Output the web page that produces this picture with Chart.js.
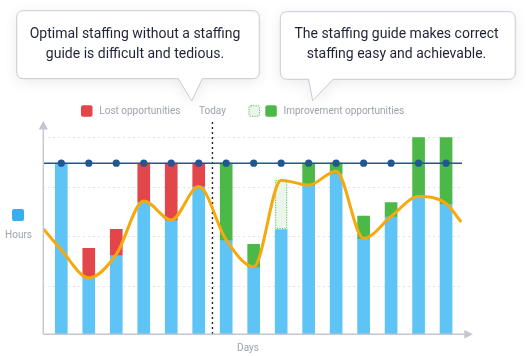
<!DOCTYPE html>
<html>
<head>
<meta charset="utf-8">
<script src="https://cdn.jsdelivr.net/npm/chart.js@4.4.1/dist/chart.umd.min.js"></script>
<style>
  html, body { margin: 0; padding: 0; background: #ffffff; }
  #wrap { width: 532px; height: 356px; position: relative; }
</style>
</head>
<body>
<div id="wrap"><canvas id="c" width="532" height="356"></canvas></div>
<script>
// ---------- data ----------
const dayPos        = [1, 2, 3, 4, 5, 6, 7, 8, 9, 10, 11, 12, 13, 14, 15];
const staffedHours  = [34.8, 11.8, 16.4, 27.1, 23.4, 30.2, 19.4, 14.0, 21.6, 30.4, 32.8, 19.7, 24.1, 28.1, 26.7];
const lostTop       = [null, 17.7, 21.5, 34.8, 34.8, 34.8, null, null, null, null, null, null, null, null, null];
const improveTop    = [null, null, null, null, null, null, 34.8, 18.5, null, 34.8, 34.8, 24.2, 26.9, 40, 40];
const potentialTop  = [null, null, null, null, null, null, null, null, 31.4, null, null, null, null, null, null];
const targetHours   = 34.8;
const demandX       = [0.35, 1, 2, 3, 4, 5, 6, 7, 8, 9, 10, 11, 12, 13, 14, 15, 15.55];
const demandHours   = [21.6, 17.4, 11.8, 16.5, 27.2, 23.4, 30.1, 19.4, 14.0, 31.4, 30.4, 33.2, 19.7, 24.1, 28.1, 26.7, 23.0];
const gridHours     = [10, 20, 30, 40];
const todayPos      = 6.5;
const xRange        = [0.345, 15.58];
const yRange        = [0.45, 40];

const calloutLeft  = ["Optimal staffing without a staffing", "guide is difficult and tedious."];
const calloutRight = ["The staffing guide makes correct", "staffing easy and achievable."];
const legendLost   = "Lost opportunities";
const legendToday  = "Today";
const legendImprove = "Improvement opportunities";
const yTitle = "Hours";
const xTitle = "Days";

// ---------- colours ----------
const C = {
  blue: '#5ec4f6', red: '#e2464a', green: '#4cb848', paleGreen: '#eaf6ea',
  orange: '#f7a80d', navy: '#23578f', grid: '#e3e4e9', axis: '#c4c6d0',
  label: '#9ea1ae', text: '#1f2336', hoursKey: '#38aef1', border: '#c8cad5'
};

// ---------- helpers ----------
function floating(tops) {
  const out = [];
  dayPos.forEach((d, i) => { if (tops[i] != null) out.push({ x: d, y: [staffedHours[i], tops[i]] }); });
  return out;
}
function roundRect(ctx, x, y, w, h, r) {
  ctx.beginPath();
  ctx.moveTo(x + r, y); ctx.lineTo(x + w - r, y);
  ctx.quadraticCurveTo(x + w, y, x + w, y + r);
  ctx.lineTo(x + w, y + h - r);
  ctx.quadraticCurveTo(x + w, y + h, x + w - r, y + h);
  ctx.lineTo(x + r, y + h);
  ctx.quadraticCurveTo(x, y + h, x, y + h - r);
  ctx.lineTo(x, y + r);
  ctx.quadraticCurveTo(x, y, x + r, y);
  ctx.closePath();
}
function callout(ctx, b, lines, cx) {
  const r = 7;
  ctx.save();
  ctx.beginPath();
  ctx.moveTo(b.x + r, b.y); ctx.lineTo(b.x + b.w - r, b.y);
  ctx.quadraticCurveTo(b.x + b.w, b.y, b.x + b.w, b.y + r);
  ctx.lineTo(b.x + b.w, b.y + b.h - r);
  ctx.quadraticCurveTo(b.x + b.w, b.y + b.h, b.x + b.w - r, b.y + b.h);
  ctx.lineTo(b.p2, b.y + b.h);
  ctx.lineTo(b.tx, b.ty);
  ctx.lineTo(b.p1, b.y + b.h);
  ctx.lineTo(b.x + r, b.y + b.h);
  ctx.quadraticCurveTo(b.x, b.y + b.h, b.x, b.y + b.h - r);
  ctx.lineTo(b.x, b.y + r);
  ctx.quadraticCurveTo(b.x, b.y, b.x + r, b.y);
  ctx.closePath();
  ctx.shadowColor = 'rgba(40,45,70,0.10)';
  ctx.shadowBlur = 14; ctx.shadowOffsetY = 3;
  ctx.fillStyle = '#ffffff'; ctx.fill();
  ctx.shadowColor = 'transparent';
  ctx.strokeStyle = C.border; ctx.lineWidth = 1; ctx.stroke();
  ctx.fillStyle = C.text;
  ctx.font = '14px Roboto';
  ctx.textAlign = 'center'; ctx.textBaseline = 'middle';
  ctx.fillText(lines[0], cx, 34.5);
  ctx.fillText(lines[1], cx, 54.5);
  ctx.restore();
}

// ---------- plugin for decorations ----------
const deco = {
  id: 'deco',
  beforeDatasetsDraw(chart) {
    const { ctx, chartArea, scales } = chart;
    const tx = scales.x.getPixelForValue(todayPos);
    ctx.save();
    ctx.strokeStyle = '#222'; ctx.lineWidth = 1.4; ctx.setLineDash([2, 3]);
    ctx.beginPath(); ctx.moveTo(tx, 122); ctx.lineTo(tx, chartArea.bottom); ctx.stroke();
    ctx.restore();
  },
  afterDatasetDraw(chart, args) {
    if (args.meta.label !== 'Potential') return;
    const { ctx } = chart;
    ctx.save();
    ctx.strokeStyle = C.green; ctx.lineWidth = 1; ctx.setLineDash([1, 1.5]);
    args.meta.data.forEach(el => {
      const p = el.getProps(['x', 'y', 'base', 'width'], true);
      const l = p.x - p.width / 2, t = Math.min(p.y, p.base), h = Math.abs(p.base - p.y);
      ctx.strokeRect(l + 0.5, t + 0.5, p.width - 1, h - 1);
    });
    ctx.restore();
  },
  afterDatasetsDraw(chart) {
    const { ctx, chartArea, scales } = chart;
    const ax = chartArea.left, ay = chartArea.bottom;
    ctx.save();
    // axes
    ctx.strokeStyle = C.axis; ctx.fillStyle = C.axis; ctx.lineWidth = 1.4;
    ctx.beginPath(); ctx.moveTo(ax, ay); ctx.lineTo(ax, 129); ctx.stroke();
    ctx.beginPath(); ctx.moveTo(ax, 121); ctx.lineTo(ax - 4.7, 129.5); ctx.lineTo(ax + 4.7, 129.5); ctx.closePath(); ctx.fill();
    ctx.beginPath(); ctx.moveTo(ax, ay); ctx.lineTo(465, ay); ctx.stroke();
    ctx.beginPath(); ctx.moveTo(473, ay); ctx.lineTo(464.3, ay - 4.3); ctx.lineTo(464.3, ay + 4.3); ctx.closePath(); ctx.fill();

    // axis titles
    ctx.fillStyle = C.label; ctx.font = '10px Roboto';
    ctx.textAlign = 'center'; ctx.textBaseline = 'middle';
    ctx.fillText(xTitle, 248, 348);
    ctx.fillText(yTitle, 18.5, 235);
    ctx.fillStyle = C.hoursKey;
    roundRect(ctx, 12, 209, 12, 12, 2); ctx.fill();

    // legend row
    const ly = 111;
    ctx.fillStyle = C.red; roundRect(ctx, 81, ly - 5.7, 11.5, 11.5, 2); ctx.fill();
    ctx.fillStyle = C.label; ctx.textAlign = 'left';
    ctx.fillText(legendLost, 99.3, ly);
    ctx.textAlign = 'center';
    ctx.fillText(legendToday, scales.x.getPixelForValue(todayPos), ly);
    ctx.fillStyle = C.paleGreen; roundRect(ctx, 248.5, ly - 5.7, 11.5, 11.5, 2); ctx.fill();
    ctx.strokeStyle = C.green; ctx.lineWidth = 1; ctx.setLineDash([1, 1.3]);
    roundRect(ctx, 249, ly - 5.2, 10.5, 10.5, 2); ctx.stroke();
    ctx.setLineDash([]);
    ctx.fillStyle = C.green; roundRect(ctx, 265.3, ly - 5.7, 11.5, 11.5, 2); ctx.fill();
    ctx.fillStyle = C.label; ctx.textAlign = 'left';
    ctx.fillText(legendImprove, 283.5, ly);

    // callouts
    callout(ctx, { x: 16.7, y: 10.7, w: 242.6, h: 68, p1: 178.3, p2: 202.3, tx: 191.7, ty: 101 }, calloutLeft, 135);
    callout(ctx, { x: 280.3, y: 11.7, w: 235, h: 67.6, p1: 308.7, p2: 333, tx: 312.7, ty: 100.7 }, calloutRight, 396.5);
    ctx.restore();
  }
};

function build() {
  const barCommon = { type: 'bar', barThickness: 12, grouped: false, borderWidth: 0, borderSkipped: false };
  new Chart(document.getElementById('c'), {
    type: 'bar',
    data: {
      datasets: [
        { type: 'line', label: 'Demand', order: 0,
          data: demandX.map((x, i) => ({ x, y: demandHours[i] })),
          borderColor: C.orange, borderWidth: 3, pointRadius: 0,
          cubicInterpolationMode: 'monotone', fill: false },
        { type: 'line', label: 'Target', order: 1,
          data: [xRange[0], ...dayPos, xRange[1]].map(x => ({ x, y: targetHours })),
          borderColor: C.navy, borderWidth: 1.5, backgroundColor: C.navy,
          pointRadius: [0, ...dayPos.map(() => 3.6), 0], pointBorderWidth: 0, fill: false },
        Object.assign({ label: 'Potential', order: 2, data: floating(potentialTop), backgroundColor: C.paleGreen }, barCommon),
        Object.assign({ label: 'Improvement', order: 3, data: floating(improveTop), backgroundColor: C.green }, barCommon),
        Object.assign({ label: 'Lost', order: 4, data: floating(lostTop), backgroundColor: C.red }, barCommon),
        Object.assign({ label: 'Hours', order: 5, data: dayPos.map((d, i) => ({ x: d, y: [yRange[0], staffedHours[i]] })), backgroundColor: C.blue }, barCommon)
      ]
    },
    options: {
      responsive: false, animation: false,
      layout: { padding: { left: 43.3, right: 70, top: 137.3, bottom: 21.7 } },
      plugins: { legend: { display: false }, tooltip: { enabled: false } },
      scales: {
        x: { type: 'linear', min: xRange[0], max: xRange[1], display: false, offset: false },
        y: { type: 'linear', min: yRange[0], max: yRange[1], display: true,
             ticks: { display: false },
             grid: { color: C.grid, drawTicks: false, lineWidth: 1 },
             border: { display: false, dash: [2, 3] },
             afterBuildTicks: s => { s.ticks = gridHours.map(v => ({ value: v })); } }
      }
    },
    plugins: [deco]
  });
}
if (document.fonts && document.fonts.load) {
  Promise.all([document.fonts.load('14px Roboto'), document.fonts.load('10px Roboto')]).then(build, build);
} else { build(); }
</script>
</body>
</html>
